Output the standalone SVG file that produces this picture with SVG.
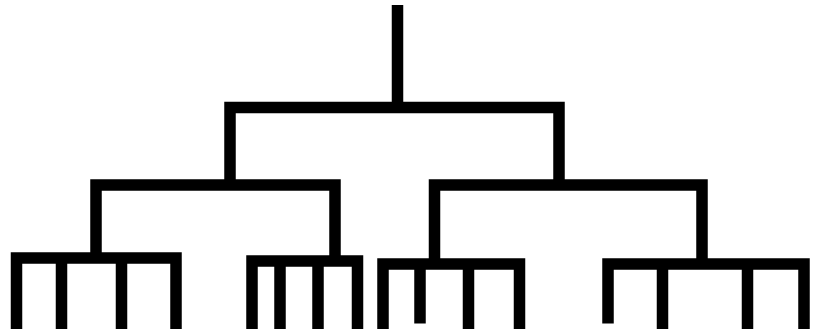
<svg xmlns="http://www.w3.org/2000/svg" width="815" height="329" viewBox="0 0 815 329">
<style>
.e{fill:none;stroke:#000;stroke-width:11.5;stroke-linejoin:miter;stroke-linecap:butt}
</style>
<rect width="815" height="329" fill="#fff"/>
<g id="connectors">
<g id="root"><path class="e" d="M397.5,5 V107.5"/><path class="e" d="M230,185 V107.5 H559 V185"/></g>
<g id="clade-left"><path class="e" d="M96,258 V185 H335 V261"/></g>
<g id="clade-right"><path class="e" d="M434.5,264 V185 H702 V264"/></g>
<g id="group1"><path class="e" d="M16.5,330 V258 H176 V330"/><path class="e" d="M61.5,258 V330"/><path class="e" d="M121.5,258 V330"/></g>
<g id="group2"><path class="e" d="M252,330 V261 H357.5 V330"/><path class="e" d="M280,261 V330"/><path class="e" d="M318,261 V330"/></g>
<g id="group3"><path class="e" d="M383,330 V264 H519.5 V330"/><path class="e" d="M420,264 V323.5"/><path class="e" d="M468.5,264 V330"/></g>
<g id="group4"><path class="e" d="M608,323.5 V264 H804 V330"/><path class="e" d="M662.5,264 V330"/><path class="e" d="M747.5,264 V330"/></g>
</g>
</svg>
